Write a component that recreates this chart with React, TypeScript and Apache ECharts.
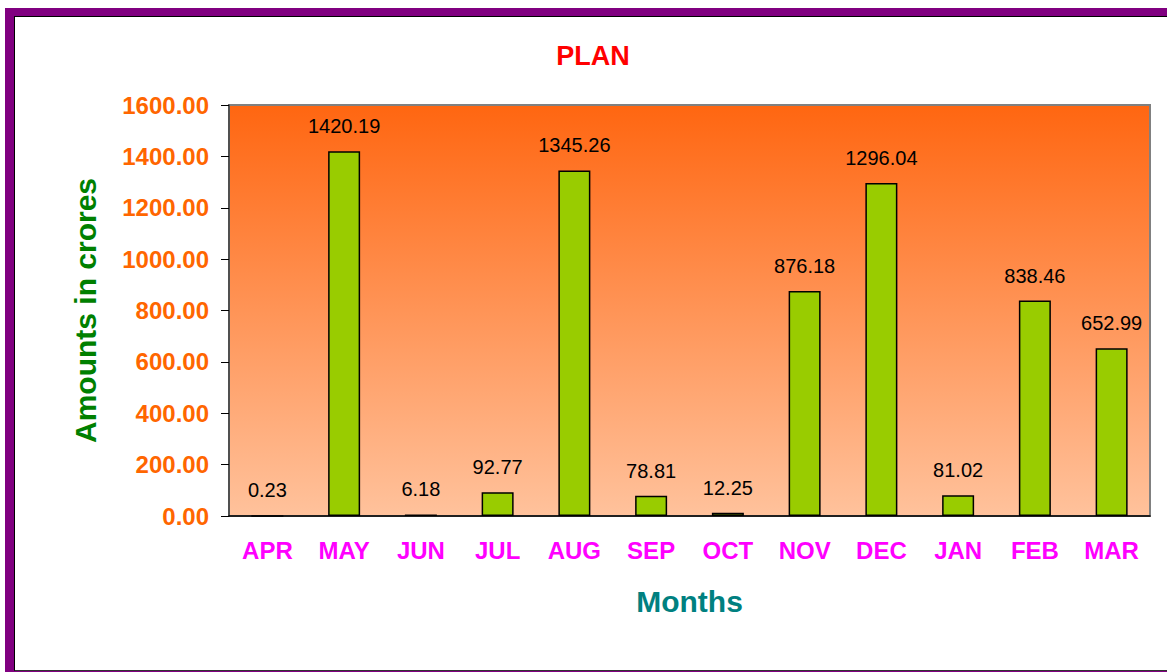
import React, { useEffect, useRef } from "react";
import * as echarts from "echarts";

const months = ["APR", "MAY", "JUN", "JUL", "AUG", "SEP", "OCT", "NOV", "DEC", "JAN", "FEB", "MAR"];
const planValues = [0.23, 1420.19, 6.18, 92.77, 1345.26, 78.81, 12.25, 876.18, 1296.04, 81.02, 838.46, 652.99];
const yMin = 0;
const yMax = 1600;
const yInterval = 200;

const FONT = "'Liberation Sans', Arial, sans-serif";

export default function App() {
  const ref = useRef<HTMLDivElement>(null);

  useEffect(() => {
    if (!ref.current) return;
    const chart = echarts.init(ref.current, undefined, { renderer: "svg" });
    chart.setOption({
      animation: false,
      textStyle: { fontFamily: FONT },
      graphic: [
        {
          type: "text",
          x: 593,
          y: 56,
          style: {
            text: "PLAN",
            fill: "#FF0000",
            font: `bold 27px ${FONT}`,
            textAlign: "center",
            textVerticalAlign: "middle",
          },
        },
      ],
      grid: {
        left: 229,
        top: 105,
        right: 17,
        bottom: 156,
        show: true,
        borderColor: "#808080",
        borderWidth: 2,
        backgroundColor: new echarts.graphic.LinearGradient(0, 0, 0, 1, [
          { offset: 0, color: "#FF6611" },
          { offset: 1, color: "#FFC29C" },
        ]),
      },
      xAxis: {
        type: "category",
        data: months,
        name: "Months",
        nameLocation: "middle",
        nameGap: 70,
        nameTextStyle: { color: "#008080", fontWeight: "bold", fontSize: 30, fontFamily: FONT },
        axisLine: { lineStyle: { color: "#000000", width: 1.5 } },
        axisTick: { length: 7, lineStyle: { color: "#404040" } },
        axisLabel: { color: "#FF00FF", fontWeight: "bold", fontSize: 24, fontFamily: FONT, margin: 22 },
      },
      yAxis: {
        type: "value",
        min: yMin,
        max: yMax,
        interval: yInterval,
        name: "Amounts in crores",
        nameLocation: "middle",
        nameGap: 129,
        nameTextStyle: { color: "#008000", fontWeight: "bold", fontSize: 30, fontFamily: FONT },
        axisLine: { show: true, lineStyle: { color: "#404040", width: 1.5 } },
        axisTick: { show: true, length: 8, lineStyle: { color: "#000000" } },
        splitLine: { show: false },
        axisLabel: {
          color: "#FF6600",
          fontWeight: "bold",
          fontSize: 24,
          fontFamily: FONT,
          margin: 20,
          formatter: (v: number) => v.toFixed(2),
        },
      },
      series: [
        {
          type: "bar",
          data: planValues,
          barWidth: 32,
          itemStyle: { color: "#99CC00", borderColor: "#000000", borderWidth: 1.5 },
          label: {
            show: true,
            position: "top",
            distance: 15,
            color: "#000000",
            fontSize: 20,
            fontFamily: FONT,
            formatter: (p: any) => p.value.toFixed(2),
          },
        },
      ],
    });
    return () => chart.dispose();
  }, []);

  return (
    <div style={{ position: "fixed", left: 0, top: 0, width: 1167, height: 672, overflow: "hidden", background: "#ffffff" }}>
      <div style={{ position: "absolute", left: 5, top: 8, width: 1400, height: 900, background: "#800080" }} />
      <div
        style={{
          position: "absolute",
          left: 14,
          top: 16,
          width: 1400,
          height: 653,
          background: "#ffffff",
          borderTop: "1px solid #000",
          borderLeft: "1px solid #000",
          borderBottom: "1px solid #333",
        }}
      />
      <div ref={ref} style={{ position: "absolute", left: 0, top: 0, width: 1167, height: 672 }} />
    </div>
  );
}
